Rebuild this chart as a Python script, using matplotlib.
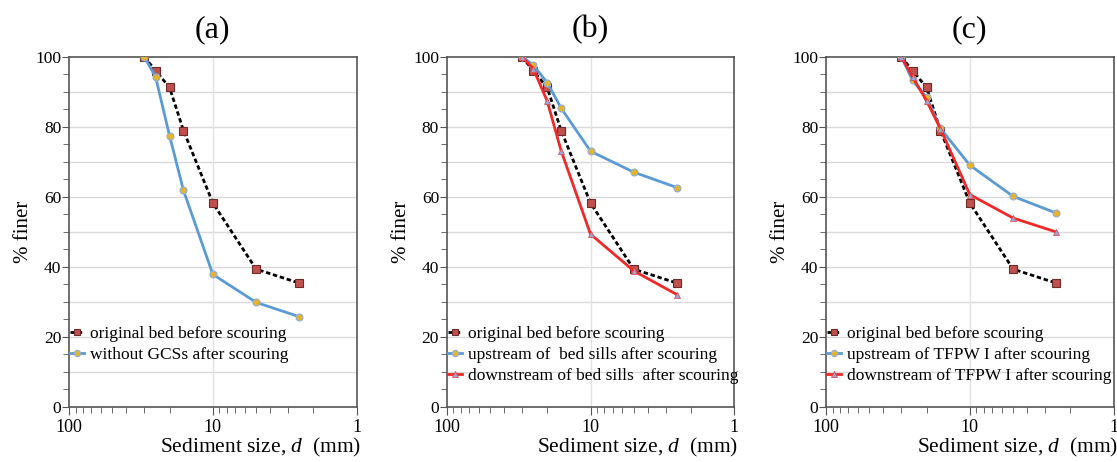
import matplotlib
matplotlib.use("Agg")
import matplotlib.pyplot as plt
from matplotlib.ticker import FixedLocator, MultipleLocator, NullFormatter

plt.rcParams['font.family'] = ['Liberation Serif', 'DejaVu Serif']
plt.rcParams['mathtext.fontset'] = 'custom'
plt.rcParams['mathtext.rm'] = 'Liberation Serif'
plt.rcParams['mathtext.it'] = 'Liberation Serif:italic'

# sieve sizes (mm)
sizes = [30, 25, 20, 16, 10, 5, 2.5]

original = [100, 96, 91.2, 78.9, 58.2, 39.3, 35.3]
no_gcs = [100, 94.2, 77.4, 61.8, 37.8, 29.8, 25.7]

sill_up = [100, 97.6, 92.6, 85.3, 73.0, 67.0, 62.6]
sill_down = [100, 96.6, 87.3, 73.1, 49.3, 38.8, 32.0]

tfpw_up = [100, 93.2, 88.4, 79.5, 69.0, 60.1, 55.3]
tfpw_down = [100, 94.2, 87.4, 79.4, 60.6, 53.9, 49.9]

panels = [
    ("(a)", [("original bed before scouring", original, 'orig'),
             ("without GCSs after scouring", no_gcs, 'up')]),
    ("(b)", [("original bed before scouring", original, 'orig'),
             ("upstream of  bed sills after scouring", sill_up, 'up'),
             ("downstream of bed sills  after scouring", sill_down, 'down')]),
    ("(c)", [("original bed before scouring", original, 'orig'),
             ("upstream of TFPW I after scouring", tfpw_up, 'up'),
             ("downstream of TFPW I after scouring", tfpw_down, 'down')]),
]

styles = {
    'orig': dict(color='black', ls=(0, (1.6, 1.0)), lw=2.0, marker='s', ms=5.5,
                 mfc='#C0504D', mec='#6E2A28', mew=0.8),
    'up': dict(color='#5B9BD5', ls='-', lw=2.0, marker='o', ms=5,
               mfc='#E6B42A', mec='#8FAFD8', mew=0.8),
    'down': dict(color='#F02828', ls='-', lw=2.0, marker='^', ms=5,
                 mfc='#9AA6D8', mec='#E05050', mew=0.6),
}

fig = plt.figure(figsize=(11.17, 4.62), dpi=100)
lefts = [0.0618, 0.3999, 0.7395]
for (title, series), left in zip(panels, lefts):
    ax = fig.add_axes([left, 0.1197, 0.2575, 0.7576])
    for label, vals, kind in series:
        ax.plot(sizes, vals, label=label, zorder=3, **styles[kind])
    ax.set_xscale('log')
    ax.set_xlim(100, 1)
    ax.set_ylim(0, 100)
    ax.xaxis.set_major_locator(FixedLocator([100, 10, 1]))
    ax.set_xticklabels(['100', '10', '1'])
    ax.xaxis.set_minor_formatter(NullFormatter())
    ax.yaxis.set_major_locator(MultipleLocator(20))
    ax.yaxis.set_minor_locator(MultipleLocator(5))
    for y in range(10, 100, 10):
        ax.axhline(y, color='#DADADA', lw=1.0, zorder=1)
    ax.axvline(10, color='#E2E2E2', lw=1.0, zorder=1)
    ax.tick_params(axis='both', which='major', length=6,
                   color='#555555', direction='out')
    ax.tick_params(axis='both', which='minor', length=4, color='#555555')
    ax.tick_params(axis='x', labelsize=13, pad=3)
    ax.tick_params(axis='y', labelsize=12.5, pad=0.5, length=5)
    for s in ax.spines.values():
        s.set_color('#555555')
        s.set_linewidth(1.2)
    ax.set_ylabel('% finer', fontsize=15)
    ax.yaxis.set_label_coords(-0.125, 0.5)
    ax.set_xlabel('Sediment size, $d$  (mm)', fontsize=15.5)
    ax.xaxis.set_label_coords(0.665, -0.085)
    ax.set_title(title, fontsize=23, pad=14)
    ax.legend(loc='upper left', bbox_to_anchor=(0.005, 0.23), frameon=False,
              fontsize=12.5, handlelength=0.8, handletextpad=0.35,
              labelspacing=0.27, borderaxespad=0.0, borderpad=0.0,
              markerscale=0.9)

fig.savefig('out.png', dpi=100)
